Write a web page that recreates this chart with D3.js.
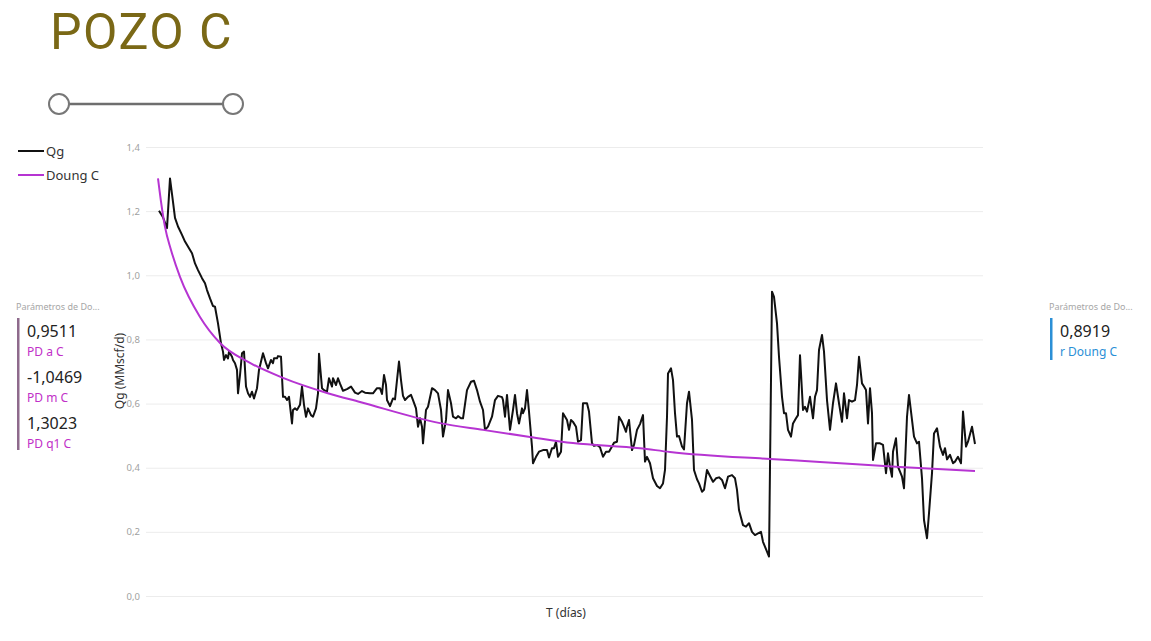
<!DOCTYPE html>
<html>
<head>
<meta charset="utf-8">
<script src="https://cdn.jsdelivr.net/npm/d3@7"></script>
<style>
  body { margin: 0; background: #fff; font-family: "Segoe UI", "Noto Sans", sans-serif; }
  svg { display: block; }
</style>
</head>
<body>
<svg id="chart" width="1151" height="641"></svg>
<script>
// serie Qg : [T (dias), Qg (MMscf/d)]
var qg = [
  [2,1.201],[6,1.181],[10,1.147],[13,1.302],[16,1.229],[18,1.179],[21,1.152],[25,1.126],[28,1.105],
  [32,1.084],[35,1.069],[38,1.037],[41,1.016],[45,0.991],[48,0.975],[50,0.954],[53,0.928],[56,0.904],
  [58,0.902],[61,0.850],[64,0.788],[66,0.762],[67,0.736],[69,0.751],[71,0.741],[72,0.762],[75,0.746],
  [76,0.736],[78,0.726],[80,0.705],[81,0.632],[83,0.689],[85,0.757],[87,0.762],[89,0.653],[91,0.632],
  [93,0.621],[95,0.637],[97,0.616],[100,0.648],[102,0.705],[106,0.757],[109,0.726],[111,0.710],
  [114,0.736],[116,0.726],[117,0.741],[120,0.741],[121,0.748],[124,0.746],[126,0.621],[128,0.621],
  [130,0.611],[132,0.621],[135,0.538],[136,0.580],[138,0.585],[140,0.580],[143,0.596],[145,0.653],
  [147,0.596],[149,0.559],[151,0.585],[154,0.564],[156,0.559],[159,0.585],[161,0.632],[162,0.755],
  [165,0.648],[167,0.642],[170,0.637],[172,0.679],[175,0.653],[176,0.679],[179,0.658],[181,0.679],
  [183,0.662],[186,0.640],[190,0.645],[194,0.653],[198,0.634],[201,0.630],[205,0.639],[208,0.634],
  [213,0.632],[216,0.632],[220,0.648],[223,0.648],[225,0.630],[227,0.689],[229,0.658],[230,0.611],
  [233,0.592],[236,0.616],[238,0.613],[240,0.673],[242,0.731],[244,0.673],[246,0.624],[248,0.611],
  [251,0.621],[254,0.627],[256,0.611],[259,0.585],[261,0.528],[263,0.554],[265,0.528],[266,0.476],
  [269,0.580],[271,0.590],[275,0.648],[278,0.642],[281,0.632],[284,0.580],[286,0.497],[289,0.549],
  [291,0.642],[294,0.601],[296,0.559],[299,0.554],[301,0.561],[304,0.554],[306,0.554],[310,0.642],
  [314,0.668],[317,0.671],[320,0.642],[323,0.606],[326,0.580],[328,0.518],[331,0.528],[335,0.559],
  [338,0.611],[341,0.624],[345,0.620],[346,0.611],[348,0.559],[350,0.627],[353,0.518],[356,0.580],
  [358,0.627],[360,0.570],[362,0.538],[365,0.585],[366,0.570],[368,0.585],[370,0.642],[372,0.575],
  [375,0.466],[376,0.414],[379,0.434],[382,0.450],[386,0.455],[390,0.455],[392,0.432],[395,0.461],
  [397,0.461],[399,0.481],[401,0.434],[404,0.450],[406,0.570],[410,0.549],[412,0.518],[414,0.549],
  [416,0.543],[419,0.528],[421,0.481],[424,0.486],[426,0.601],[430,0.601],[432,0.575],[435,0.476],
  [437,0.468],[440,0.471],[443,0.464],[446,0.434],[449,0.450],[452,0.450],[455,0.466],[457,0.478],
  [460,0.481],[462,0.559],[465,0.543],[467,0.528],[469,0.512],[470,0.528],[472,0.549],[475,0.455],
  [477,0.471],[480,0.518],[483,0.536],[486,0.564],[488,0.419],[490,0.434],[493,0.414],[496,0.367],
  [500,0.343],[503,0.336],[506,0.351],[508,0.393],[510,0.559],[511,0.694],[514,0.710],[516,0.673],
  [518,0.570],[520,0.497],[522,0.499],[525,0.466],[527,0.457],[530,0.601],[532,0.637],[535,0.549],
  [537,0.393],[540,0.364],[542,0.351],[545,0.325],[547,0.331],[550,0.393],[553,0.374],[556,0.356],
  [559,0.367],[562,0.370],[565,0.362],[568,0.336],[571,0.372],[575,0.377],[578,0.367],[580,0.331],
  [582,0.268],[586,0.221],[589,0.216],[592,0.227],[595,0.200],[598,0.190],[601,0.195],[604,0.200],
  [606,0.169],[610,0.138],[612,0.123],[615,0.949],[617,0.933],[620,0.850],[622,0.746],[625,0.621],
  [627,0.570],[629,0.570],[631,0.518],[634,0.497],[636,0.538],[639,0.554],[641,0.564],[643,0.751],
  [646,0.580],[648,0.590],[650,0.575],[653,0.621],[656,0.554],[658,0.621],[660,0.642],[662,0.767],
  [665,0.814],[667,0.762],[670,0.611],[673,0.518],[676,0.601],[679,0.663],[682,0.601],[685,0.543],
  [687,0.632],[690,0.554],[692,0.611],[695,0.606],[698,0.611],[700,0.658],[702,0.746],[705,0.663],
  [707,0.653],[709,0.642],[711,0.538],[713,0.648],[715,0.570],[716,0.424],[719,0.476],[723,0.476],
  [726,0.471],[729,0.383],[731,0.445],[733,0.403],[735,0.372],[736,0.450],[739,0.492],[741,0.403],
  [743,0.388],[745,0.372],[747,0.336],[750,0.559],[752,0.627],[755,0.549],[757,0.497],[760,0.476],
  [762,0.481],[765,0.367],[767,0.237],[770,0.180],[772,0.258],[775,0.383],[777,0.507],[780,0.523],
  [783,0.466],[786,0.440],[788,0.461],[790,0.426],[793,0.440],[796,0.414],[798,0.419],[801,0.434],
  [804,0.414],[806,0.575],[809,0.466],[811,0.481],[815,0.528],[818,0.474]
];

// curva Doung C
var doung = [
  [1,1.302],[4,1.230],[8,1.151],[14,1.079],[23,0.995],[43,0.870],[63,0.789],[93,0.727],[126,0.680],
  [170,0.633],[203,0.605],[283,0.539],[326,0.518],[373,0.496],[416,0.477],[483,0.461],[513,0.449],
  [613,0.427],[663,0.418],[743,0.402],[818,0.390]
];

var yTicks = [0, 0.2, 0.4, 0.6, 0.8, 1.0, 1.2, 1.4];

var paramsIzq = [
  { valor: "0,9511", nombre: "PD a C" },
  { valor: "-1,0469", nombre: "PD m C" },
  { valor: "1,3023", nombre: "PD q1 C" }
];
var paramsDer = [
  { valor: "0,8919", nombre: "r Doung C" }
];

var colorQg = "#111111",
  colorDoung = "#b634d2";

var svg = d3.select("#chart");

// titulo
svg.append("text")
  .attr("x", 50)
  .attr("y", 48.5)
  .style("font-family", "Roboto, sans-serif")
  .style("font-size", "50px")
  .style("letter-spacing", "1.5px")
  .style("fill", "#7a6816")
  .text("POZO C");

// slider
var slider = svg.append("g");
slider.append("line")
  .attr("x1", 59).attr("x2", 233)
  .attr("y1", 104).attr("y2", 104)
  .attr("stroke", "#6e6e6e")
  .attr("stroke-width", 2.5);
slider.selectAll("circle")
  .data([59, 233])
  .enter()
  .append("circle")
  .attr("cx", function (d) { return d; })
  .attr("cy", 104)
  .attr("r", 10)
  .attr("fill", "#fff")
  .attr("stroke", "#777")
  .attr("stroke-width", 2);

// escalas
var x = d3.scaleLinear()
  .domain([1, 818])
  .range([158, 975]);
var y = d3.scaleLinear()
  .domain([0, 1.4])
  .range([596, 147]);

// grilla y eje Y
var eje = svg.append("g")
  .attr("transform", "translate(146,0)")
  .call(d3.axisLeft(y)
    .tickValues(yTicks)
    .tickSize(-837)
    .tickPadding(6)
    .tickFormat(function (d) { return d3.format(".1f")(d).replace(".", ","); }));
eje.select(".domain").remove();
eje.selectAll(".tick line").attr("stroke", "#ececec");
eje.selectAll(".tick text")
  .attr("fill", "#a0a0a0")
  .style("font-size", "9.5px")
  .style("font-family", "'Segoe UI', 'Noto Sans', sans-serif");

// titulos de ejes
svg.append("text")
  .attr("transform", "translate(124,371) rotate(-90)")
  .attr("text-anchor", "middle")
  .style("font-size", "12px")
  .style("fill", "#333")
  .text("Qg (MMscf/d)");
svg.append("text")
  .attr("x", 566)
  .attr("y", 617)
  .attr("text-anchor", "middle")
  .style("font-size", "12px")
  .style("fill", "#333")
  .text("T (días)");

// lineas
var linea = d3.line()
  .x(function (d) { return x(d[0]); })
  .y(function (d) { return y(d[1]); });

svg.append("path")
  .datum(qg)
  .attr("fill", "none")
  .attr("stroke", colorQg)
  .attr("stroke-width", 2)
  .attr("stroke-linejoin", "round")
  .attr("d", linea);

svg.append("path")
  .datum(doung)
  .attr("fill", "none")
  .attr("stroke", colorDoung)
  .attr("stroke-width", 2)
  .attr("d", linea.curve(d3.curveMonotoneX));

// leyenda
var leyenda = svg.append("g");
var itemsLeyenda = [{ n: "Qg", c: colorQg }, { n: "Doung C", c: colorDoung }];
leyenda.selectAll("line")
  .data(itemsLeyenda)
  .enter()
  .append("line")
  .attr("x1", 18).attr("x2", 44)
  .attr("y1", function (d, i) { return 151 + i * 24; })
  .attr("y2", function (d, i) { return 151 + i * 24; })
  .attr("stroke", function (d) { return d.c; })
  .attr("stroke-width", 2);
leyenda.selectAll("text")
  .data(itemsLeyenda)
  .enter()
  .append("text")
  .attr("x", 46)
  .attr("y", function (d, i) { return 155.5 + i * 24; })
  .style("font-size", "13px")
  .style("fill", "#333")
  .text(function (d) { return d.n; });

// tarjetas de parametros
function tarjeta(x0, datos, colorBarra, colorNombre) {
  var g = svg.append("g");
  g.append("text")
    .attr("x", x0 - 1)
    .attr("y", 310)
    .style("font-size", "9px")
    .style("fill", "#a6a6a6")
    .text("Parámetros de Do...");
  g.append("rect")
    .attr("x", x0)
    .attr("y", 318)
    .attr("width", 2.5)
    .attr("height", datos.length * 45 - 3)
    .attr("fill", colorBarra);
  g.selectAll(".val")
    .data(datos)
    .enter()
    .append("text")
    .attr("x", x0 + 10)
    .attr("y", function (d, i) { return 337 + i * 46; })
    .style("font-size", "16px")
    .style("fill", "#222")
    .text(function (d) { return d.valor; });
  g.selectAll(".nom")
    .data(datos)
    .enter()
    .append("text")
    .attr("x", x0 + 10)
    .attr("y", function (d, i) { return 356 + i * 46; })
    .style("font-size", "12px")
    .style("fill", colorNombre)
    .text(function (d) { return d.nombre; });
}
tarjeta(17, paramsIzq, "#8e6a8c", "#c12fc8");
tarjeta(1050, paramsDer, "#2b8fd6", "#2b8fd6");
</script>
</body>
</html>
